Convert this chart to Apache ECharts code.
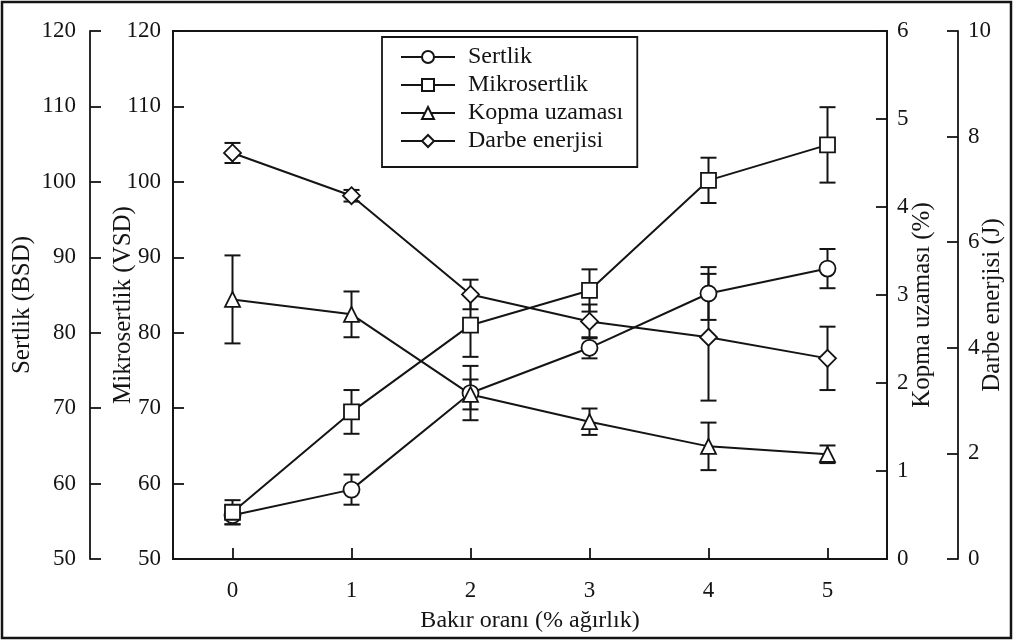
<!DOCTYPE html>
<html>
<head>
<meta charset="utf-8">
<script src="https://cdn.jsdelivr.net/npm/echarts@6/dist/echarts.min.js"></script>
<style>
html,body{margin:0;padding:0;background:#fff;}
#chart{width:1014px;height:641px;}
</style>
</head>
<body>
<div id="chart"></div>
<script>
// ---- data ----
const categories = ['0', '1', '2', '3', '4', '5'];
const sertlik    = [55.8, 59.2, 72.0, 78.0, 85.2, 88.5];
const sertlikErr = [1.2, 2.0, 3.6, 1.4, 3.5, 2.6];
const mikro      = [56.2, 69.5, 81.0, 85.6, 100.2, 104.9];
const mikroErr   = [1.6, 2.9, 4.2, 2.8, 3.0, 5.0];
const kopma      = [2.95, 2.78, 1.87, 1.56, 1.28, 1.19];
const kopmaErr   = [0.5, 0.26, 0.17, 0.15, 0.27, 0.1];
const darbe      = [7.69, 6.88, 5.01, 4.5, 4.2, 3.8];
const darbeErr   = [0.19, 0.11, 0.28, 0.32, 1.2, 0.6];
const seriesNames = ['Sertlik', 'Mikrosertlik', 'Kopma uzaması', 'Darbe enerjisi'];
const axisNames = ['Sertlik (BSD)', 'Mikrosertlik (VSD)', 'Kopma uzaması (%)', 'Darbe enerjisi (J)'];
const xName = 'Bakır oranı (% ağırlık)';

const INK = '#141414';
const FONT = 'Liberation Serif';
const FS = 23;

function errData(vals, errs) {
  return vals.map((v, i) => [i, v, errs[i]]);
}
function errRender(params, api) {
  const x = api.value(0), v = api.value(1), e = api.value(2);
  const t = api.coord([x, v + e]);
  const b = api.coord([x, v - e]);
  const hw = 8;
  const st = { stroke: INK, lineWidth: 2 };
  return {
    type: 'group',
    children: [
      { type: 'line', shape: { x1: t[0], y1: t[1], x2: b[0], y2: b[1] }, style: st },
      { type: 'line', shape: { x1: t[0] - hw, y1: t[1], x2: t[0] + hw, y2: t[1] }, style: st },
      { type: 'line', shape: { x1: b[0] - hw, y1: b[1], x2: b[0] + hw, y2: b[1] }, style: st }
    ]
  };
}

function yAxis(opts, margin) {
  return Object.assign({
    type: 'value',
    axisLine: { show: true, lineStyle: { color: INK, width: 1.8 } },
    axisTick: { show: true, inside: true, length: 11, lineStyle: { color: INK, width: 1.8 } },
    axisLabel: { color: INK, fontFamily: FONT, fontSize: FS, margin: margin },
    splitLine: { show: false },
    nameLocation: 'middle',
    nameMoveOverlap: false,
    nameTextStyle: { color: INK, fontFamily: FONT, fontSize: 25, padding: [0, 20, 0, 0] }
  }, opts);
}

const lineStyle = { color: INK, width: 2 };
const itemStyle = { color: '#fff', borderColor: INK, borderWidth: 1.8 };

function lineSeries(name, data, yIdx, symbol, size) {
  return {
    name: name, type: 'line', data: data, yAxisIndex: yIdx,
    symbol: symbol, symbolSize: size, showAllSymbol: true,
    lineStyle: lineStyle, itemStyle: itemStyle, z: 5,
    emphasis: { disabled: true }, animation: false
  };
}
function errSeries(vals, errs, yIdx) {
  return {
    type: 'custom', yAxisIndex: yIdx, data: errData(vals, errs),
    renderItem: errRender, encode: { x: 0, y: 1 }, z: 3, silent: true, animation: false
  };
}

const chart = echarts.init(document.getElementById('chart'));
chart.setOption({
  animation: false,
  backgroundColor: '#fff',
  grid: { left: 173, right: 127, top: 31, bottom: 82, show: true, borderColor: INK, borderWidth: 1.8,
          outerBoundsMode: 'none', containLabel: false },
  xAxis: {
    type: 'category', data: categories, boundaryGap: true,
    axisLine: { show: true, lineStyle: { color: INK, width: 1.8 } },
    axisTick: { show: true, inside: true, alignWithLabel: true, length: 11, lineStyle: { color: INK, width: 1.8 } },
    axisLabel: { color: INK, fontFamily: FONT, fontSize: FS, margin: 20 },
    name: xName, nameLocation: 'middle', nameGap: 50, nameMoveOverlap: false,
    nameTextStyle: { color: INK, fontFamily: FONT, fontSize: FS + 1 }
  },
  yAxis: [
    yAxis({ position: 'left', offset: 83, min: 50, max: 120, interval: 10, name: axisNames[0], nameGap: 55 }, 14),
    yAxis({ position: 'left', offset: 0, min: 50, max: 120, interval: 10, name: axisNames[1], nameGap: 37 }, 12),
    yAxis({ position: 'right', offset: 0, min: 0, max: 6, interval: 1, name: axisNames[2], nameGap: 23 }, 10),
    yAxis({ position: 'right', offset: 71, min: 0, max: 10, interval: 2, name: axisNames[3], nameGap: 22 }, 10)
  ],
  legend: {
    left: 382, top: 37, orient: 'vertical',
    data: seriesNames,
    itemWidth: 54, itemHeight: 15, itemGap: 4,
    padding: [8, 14, 14, 18],
    borderColor: INK, borderWidth: 1.8, backgroundColor: '#fff',
    textStyle: { color: INK, fontFamily: FONT, fontSize: FS + 1, padding: [0, 0, 0, 8] },
    selectedMode: false
  },
  series: [
    errSeries(sertlik, sertlikErr, 0),
    errSeries(mikro, mikroErr, 1),
    errSeries(kopma, kopmaErr, 2),
    errSeries(darbe, darbeErr, 3),
    lineSeries(seriesNames[0], sertlik, 0, 'circle', 16),
    lineSeries(seriesNames[1], mikro, 1, 'rect', 15),
    lineSeries(seriesNames[2], kopma, 2, 'triangle', 15),
    lineSeries(seriesNames[3], darbe, 3, 'diamond', 17)
  ],
  graphic: [
    { type: 'rect', shape: { x: 2, y: 2, width: 1009, height: 636 }, style: { fill: 'none', stroke: INK, lineWidth: 2.5 }, silent: true, z: 100 }
  ]
});
</script>
</body>
</html>
